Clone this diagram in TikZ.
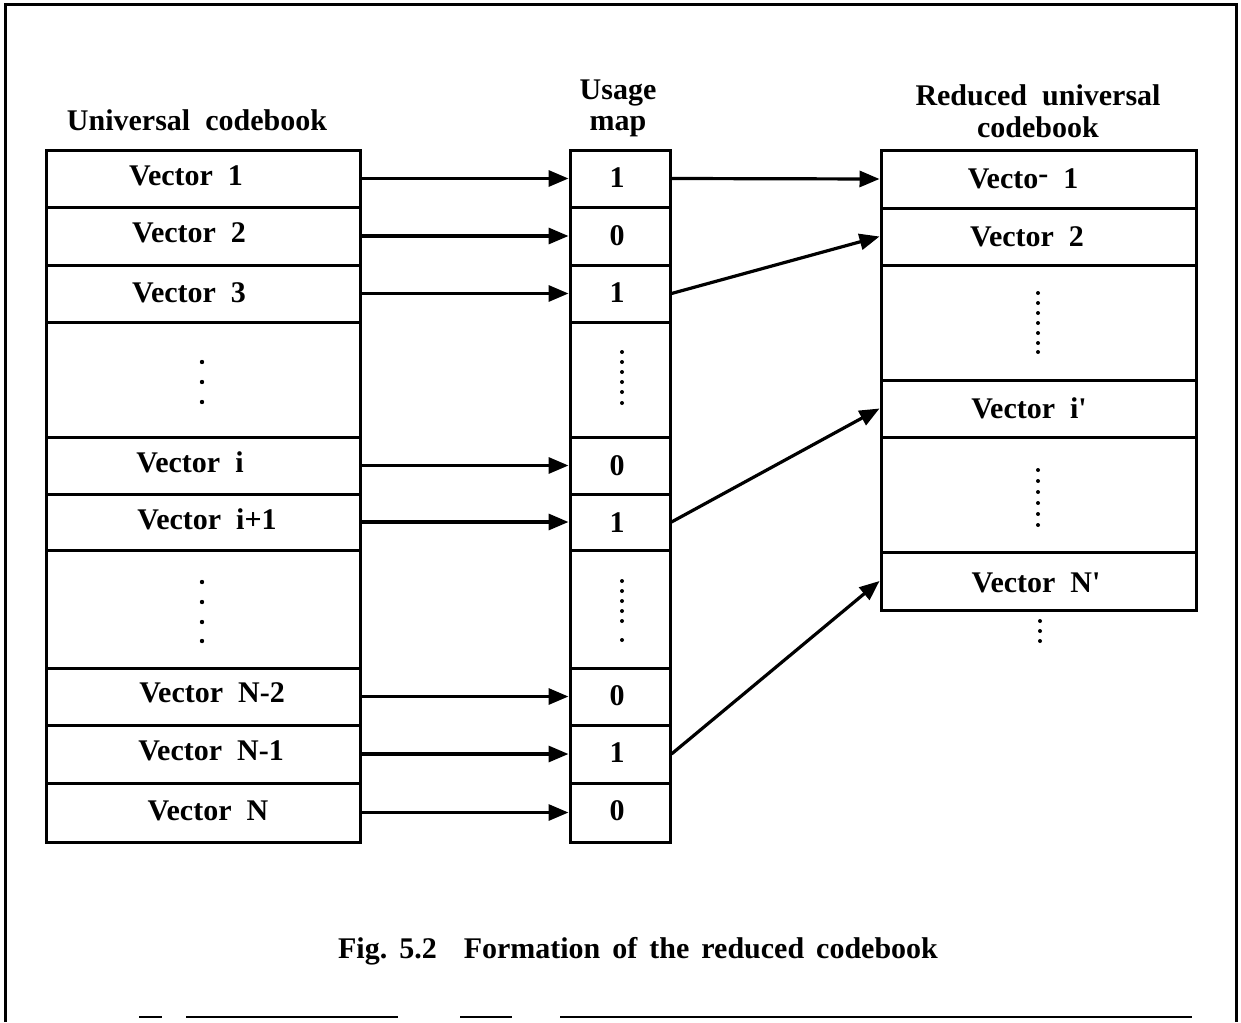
\documentclass[tikz,border=0pt]{standalone}
\usepackage{fontspec}
\setmainfont{Liberation Serif}
\usetikzlibrary{arrows.meta,fit}
\newcommand{\wgap}{\hspace{0.5em}}
\begin{document}
\begin{tikzpicture}[x=0.5pt,y=-0.5pt,
  cell/.style={draw,line width=1.5pt,inner sep=0pt},
  txt/.style={font=\bfseries\fontsize{15}{16}\selectfont,inner sep=0pt,anchor=base},
  arr/.style={line width=1.6pt,-{Triangle[length=10pt,width=8pt]}},
  frame/.style={line width=1.5pt},
  dot/.style={fill=black}]
\useasboundingbox (0,0) rectangle (1241,1022);
% outer frame
\draw[frame] (5,1022) -- (5,5) -- (1236,5) -- (1236,1022);
\draw[line width=1pt] (139,1017) -- (162,1017) (186,1017) -- (398,1017) (460,1017) -- (512,1017) (560,1017) -- (1192,1017);

% headers
\node[txt] (hL) at (197,130) {Universal\wgap codebook};
\node[txt,align=center] (hM) at (618,131) {Usage\\map};
\node[txt,align=center] (hR) at (1038,137) {Reduced\wgap universal\\codebook};

% left column
\node[cell,fit={(46,150) (360,207)}] (L1) {};
\node[cell,fit={(46,207) (360,265)}] (L2) {};
\node[cell,fit={(46,265) (360,322)}] (L3) {};
\node[cell,fit={(46,322) (360,437)}] (Ld1) {};
\node[cell,fit={(46,437) (360,494)}] (Li) {};
\node[cell,fit={(46,494) (360,550)}] (Li1) {};
\node[cell,fit={(46,550) (360,668)}] (Ld2) {};
\node[cell,fit={(46,668) (360,725)}] (LN2) {};
\node[cell,fit={(46,725) (360,783)}] (LN1) {};
\node[cell,fit={(46,783) (360,842)}] (LN) {};
\node[txt] (tL1) at (186,185) {Vector\wgap 1};
\node[txt] (tL2) at (189,242) {Vector\wgap 2};
\node[txt] (tL3) at (189,302) {Vector\wgap 3};
\node[txt] (tLi) at (190,472) {Vector\wgap i};
\node[txt] (tLi1) at (207,529) {Vector\wgap i+1};
\node[txt] (tLN2) at (212,702) {Vector\wgap N-2};
\node[txt] (tLN1) at (211,760) {Vector\wgap N-1};
\node[txt] (tLN) at (208,820) {Vector\wgap N};
\foreach \y in {362,382,402} \fill[dot] (202,\y) circle (1.1pt);
\foreach \y in {582,602,622,641} \fill[dot] (202,\y) circle (1.1pt);

% middle column
\node[cell,fit={(570,150) (670,207)}] (M1) {};
\node[cell,fit={(570,207) (670,265)}] (M2) {};
\node[cell,fit={(570,265) (670,322)}] (M3) {};
\node[cell,fit={(570,322) (670,437)}] (Md1) {};
\node[cell,fit={(570,437) (670,494)}] (Mi) {};
\node[cell,fit={(570,494) (670,550)}] (Mi1) {};
\node[cell,fit={(570,550) (670,668)}] (Md2) {};
\node[cell,fit={(570,668) (670,725)}] (MN2) {};
\node[cell,fit={(570,725) (670,783)}] (MN1) {};
\node[cell,fit={(570,783) (670,842)}] (MN) {};
\node[txt] (tM1) at (617,187) {1};
\node[txt] (tM2) at (617,245) {0};
\node[txt] (tM3) at (617,302) {1};
\node[txt] (tMi) at (617,475) {0};
\node[txt] (tMi1) at (617,532) {1};
\node[txt] (tMN2) at (617,705) {0};
\node[txt] (tMN1) at (617,762) {1};
\node[txt] (tMN) at (617,820) {0};
\foreach \y in {352,362,372,382,392,403} \fill[dot] (622,\y) circle (1pt);
\foreach \y in {581,591,601,611,621,640} \fill[dot] (622,\y) circle (1pt);

% right column
\node[cell,fit={(881,150) (1196,208)}] (R1) {};
\node[cell,fit={(881,208) (1196,265)}] (R2) {};
\node[cell,fit={(881,265) (1196,380)}] (Rd1) {};
\node[cell,fit={(881,380) (1196,437)}] (Ri) {};
\node[cell,fit={(881,437) (1196,552)}] (Rd2) {};
\node[cell,fit={(881,552) (1196,610)}] (RN) {};
\node[txt] (tR1) at (1023,188) {Vecto\raisebox{0.35ex}{-}\wgap 1};
\node[txt] (tR2) at (1027,246) {Vector\wgap 2};
\node[txt] (tRi) at (1029,418) {Vector\wgap i\textquotesingle};
\node[txt] (tRN) at (1036,592) {Vector\wgap N\textquotesingle};
\foreach \y in {293,303,313,323,333,343,352} \fill[dot] (1038,\y) circle (1pt);
\foreach \y in {470,481,492,503,514,525} \fill[dot] (1038,\y) circle (1pt);
\foreach \y in {621,631,641} \fill[dot] (1040,\y) circle (1pt);

% arrows left -> middle
\draw[arr] (L1.east) -- (M1.west);
\draw[arr] (L2.east) -- (M2.west);
\draw[arr] (L3.east) -- (M3.west);
\draw[arr] (Li.east) -- (Mi.west);
\draw[arr] (Li1.east) -- (Mi1.west);
\draw[arr] (LN2.east) -- (MN2.west);
\draw[arr] (LN1.east) -- (MN1.west);
\draw[arr] (LN.east) -- (MN.west);

% arrows middle -> right
\draw[arr] (M1.east) -- (R1.west);
\draw[arr] (M3.east) -- (R2.west);
\draw[arr] (Mi1.east) -- (Ri.west);
\draw[arr] (MN1.east) -- (RN.west);

% caption
\node[txt] (cap) at (638,958) {Fig.\hspace{0.4em}5.2\hspace{0.9em}Formation\hspace{0.4em}of\hspace{0.4em}the\hspace{0.4em}reduced\hspace{0.4em}codebook};
\end{tikzpicture}
\end{document}
